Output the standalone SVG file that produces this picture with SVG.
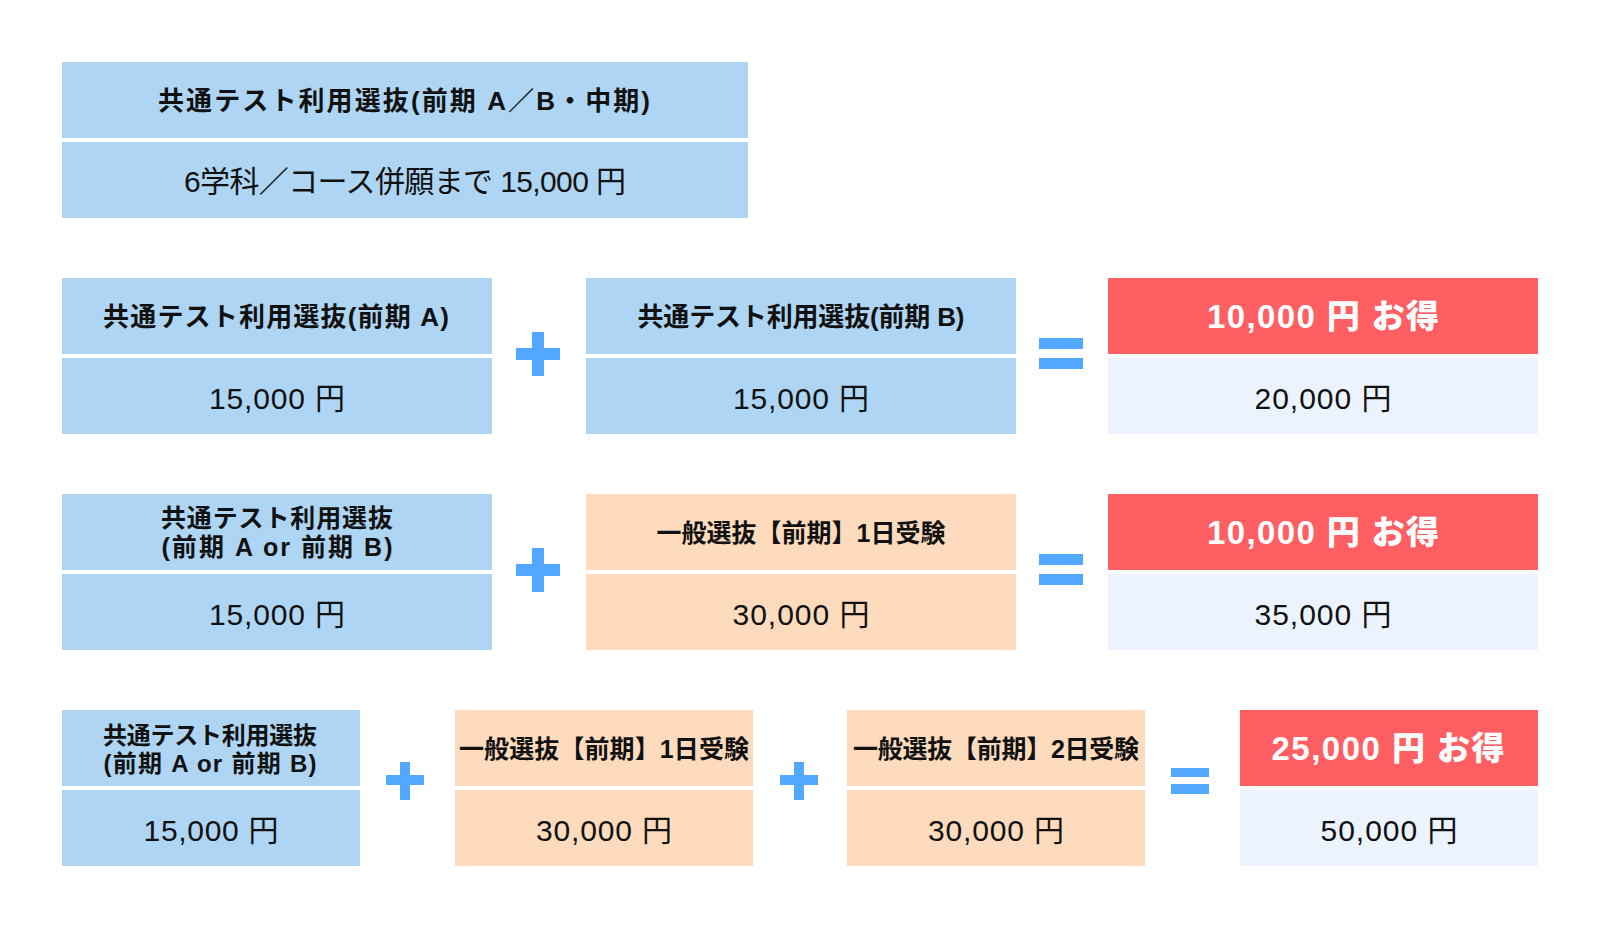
<svg xmlns="http://www.w3.org/2000/svg" width="1600" height="928" viewBox="0 0 1600 928">
<style>
text{font-family:"Liberation Sans","Noto Sans CJK JP",sans-serif;text-anchor:middle;dominant-baseline:central;fill:#111}
.h{font-size:25px;font-weight:700}
.h26{font-size:26px;font-weight:700}
.h24{font-size:24px;font-weight:700}
.v{font-size:30px;font-weight:400}
.r{font-size:33px;font-weight:900;fill:#fff}
.blue{fill:#aed6f4}
.peach{fill:#fddbbc}
.red{fill:#ff5e62}
.pale{fill:#ebf4fe}
.sign{fill:#52a8ff}
</style>
<rect width="1600" height="928" fill="#fff"/>
<g id="top">
<rect class="blue" x="62" y="62" width="686" height="76"/>
<rect class="blue" x="62" y="142" width="686" height="76"/>
<text class="h26" x="404" y="101" textLength="492" lengthAdjust="spacing">共通テスト利用選抜(前期 A／B・中期)</text>
<text class="v" x="405" y="181" textLength="442" lengthAdjust="spacing">6学科／コース併願まで 15,000 円</text>
</g>
<g id="r1a">
<rect class="blue" x="62" y="278" width="430" height="76"/>
<rect class="blue" x="62" y="358" width="430" height="76"/>
<text class="h26" x="276" y="317" textLength="346" lengthAdjust="spacing">共通テスト利用選抜(前期 A)</text>
<text class="v" x="277" y="398" textLength="136" lengthAdjust="spacing">15,000 円</text>
</g>
<g id="r1b">
<rect class="blue" x="586" y="278" width="430" height="76"/>
<rect class="blue" x="586" y="358" width="430" height="76"/>
<text class="h26" x="801" y="317" textLength="327" lengthAdjust="spacing">共通テスト利用選抜(前期 B)</text>
<text class="v" x="801" y="398" textLength="136" lengthAdjust="spacing">15,000 円</text>
</g>
<g id="r1res">
<rect class="red" x="1108" y="278" width="430" height="76"/>
<rect class="pale" x="1108" y="358" width="430" height="76"/>
<text class="r" x="1323" y="316" textLength="232" lengthAdjust="spacing">10,000 円 お得</text>
<text class="v" x="1323" y="398" textLength="137" lengthAdjust="spacing">20,000 円</text>
</g>
<g id="r2a">
<rect class="blue" x="62" y="494" width="430" height="76"/>
<rect class="blue" x="62" y="574" width="430" height="76"/>
<text class="h" x="277" y="518" textLength="232" lengthAdjust="spacing">共通テスト利用選抜</text>
<text class="h" x="277" y="547" textLength="231" lengthAdjust="spacing">(前期 A or 前期 B)</text>
<text class="v" x="277" y="614" textLength="136" lengthAdjust="spacing">15,000 円</text>
</g>
<g id="r2b">
<rect class="peach" x="586" y="494" width="430" height="76"/>
<rect class="peach" x="586" y="574" width="430" height="76"/>
<text class="h" x="801" y="533" textLength="289" lengthAdjust="spacing">一般選抜【前期】1日受験</text>
<text class="v" x="801" y="614" textLength="137" lengthAdjust="spacing">30,000 円</text>
</g>
<g id="r2res">
<rect class="red" x="1108" y="494" width="430" height="76"/>
<rect class="pale" x="1108" y="574" width="430" height="76"/>
<text class="r" x="1323" y="532" textLength="232" lengthAdjust="spacing">10,000 円 お得</text>
<text class="v" x="1323" y="614" textLength="137" lengthAdjust="spacing">35,000 円</text>
</g>
<g id="r3a">
<rect class="blue" x="62" y="710" width="298" height="76"/>
<rect class="blue" x="62" y="790" width="298" height="76"/>
<text class="h24" x="210" y="735" textLength="214" lengthAdjust="spacing">共通テスト利用選抜</text>
<text class="h24" x="210" y="763" textLength="213" lengthAdjust="spacing">(前期 A or 前期 B)</text>
<text class="v" x="211" y="830" textLength="135" lengthAdjust="spacing">15,000 円</text>
</g>
<g id="r3b">
<rect class="peach" x="455" y="710" width="298" height="76"/>
<rect class="peach" x="455" y="790" width="298" height="76"/>
<text class="h" x="604" y="749" textLength="290" lengthAdjust="spacing">一般選抜【前期】1日受験</text>
<text class="v" x="604" y="830" textLength="136" lengthAdjust="spacing">30,000 円</text>
</g>
<g id="r3c">
<rect class="peach" x="847" y="710" width="298" height="76"/>
<rect class="peach" x="847" y="790" width="298" height="76"/>
<text class="h" x="996" y="749" textLength="286" lengthAdjust="spacing">一般選抜【前期】2日受験</text>
<text class="v" x="996" y="830" textLength="136" lengthAdjust="spacing">30,000 円</text>
</g>
<g id="r3res">
<rect class="red" x="1240" y="710" width="298" height="76"/>
<rect class="pale" x="1240" y="790" width="298" height="76"/>
<text class="r" x="1388" y="748" textLength="233" lengthAdjust="spacing">25,000 円 お得</text>
<text class="v" x="1389" y="830" textLength="137" lengthAdjust="spacing">50,000 円</text>
</g>
<g id="operators">
<rect class="sign" x="516" y="348" width="44" height="12"/>
<rect class="sign" x="532" y="332" width="12" height="44"/>
<rect class="sign" x="1039" y="338" width="44" height="11"/>
<rect class="sign" x="1039" y="358" width="44" height="11"/>
<rect class="sign" x="516" y="564" width="44" height="12"/>
<rect class="sign" x="532" y="548" width="12" height="44"/>
<rect class="sign" x="1039" y="554" width="44" height="11"/>
<rect class="sign" x="1039" y="574" width="44" height="11"/>
<rect class="sign" x="386" y="775" width="38" height="10"/>
<rect class="sign" x="400" y="762" width="10" height="38"/>
<rect class="sign" x="780" y="775" width="38" height="10"/>
<rect class="sign" x="794" y="762" width="10" height="38"/>
<rect class="sign" x="1171" y="768" width="38" height="9"/>
<rect class="sign" x="1171" y="784" width="38" height="10"/>
</g>
</svg>
